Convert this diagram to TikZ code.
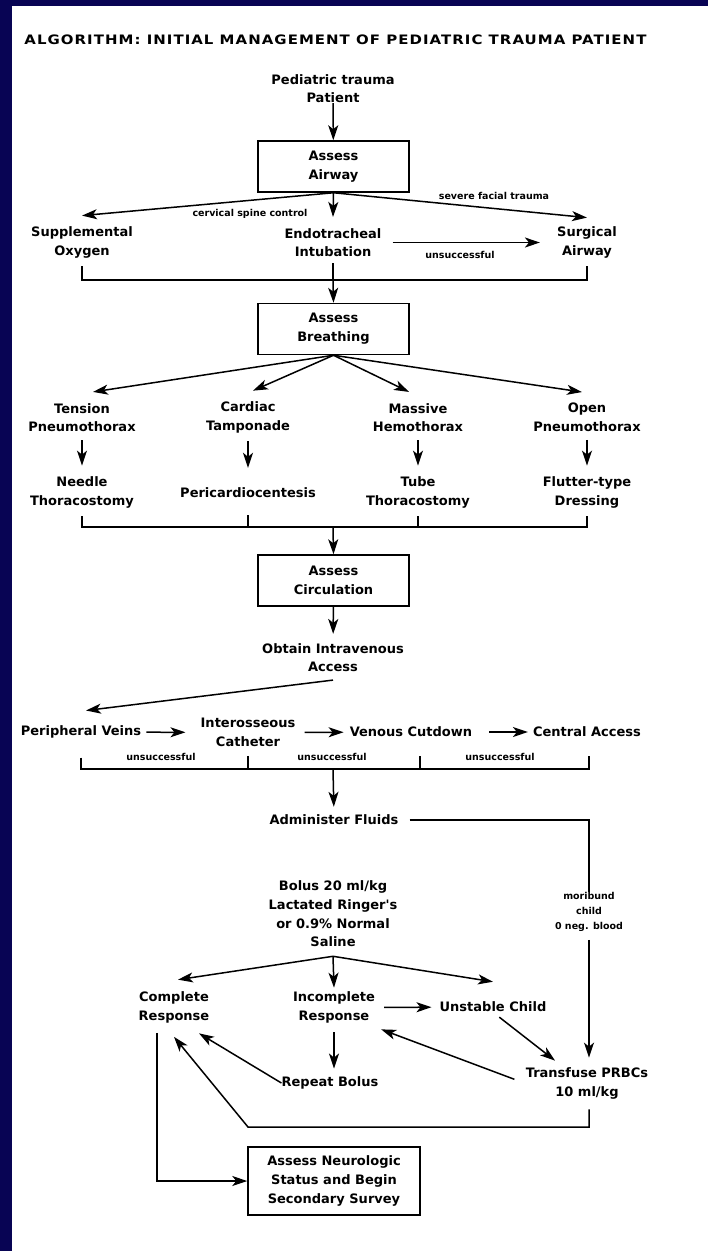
\documentclass[tikz,border=0pt]{standalone}
\usepackage{fontspec}
\usepackage{xcolor}
\usetikzlibrary{arrows.meta}
\newfontfamily\dejavu{DejaVu Sans}
\newfontfamily\titlefont{DejaVu Sans}[FakeStretch=1.15,LetterSpace=8]
\definecolor{navy}{RGB}{8,4,84}

\begin{document}
\begin{tikzpicture}[x=1pt,y=-1pt,
    txt/.style={align=center,inner sep=0pt,font=\dejavu\bfseries\fontsize{13}{18.7}\selectfont},
    lab/.style={align=center,inner sep=0pt,font=\dejavu\bfseries\fontsize{9.5}{15}\selectfont},
    box/.style={txt,draw,line width=1.5pt,minimum width=151pt,minimum height=51pt},
    ln/.style={line width=1.5pt},
    arr/.style={ln,-{Stealth[length=15pt,width=10pt,inset=4pt]}}]
                % Frame
                \useasboundingbox (0,0) rectangle (708,1251);
                \fill[navy] (0,0) rectangle (708,1251);
                \fill[white] (12,6) rectangle (708,1251);
                
                \node[inner sep=0pt,font=\titlefont\bfseries\fontsize{13}{15}\selectfont] (title) at (335.5,40) {ALGORITHM: INITIAL MANAGEMENT OF PEDIATRIC TRAUMA PATIENT};
                
                % Airway
                \node[txt] (patient) at (333,88.5) {Pediatric trauma\\Patient};
                \node[box] (airway) at (333.5,166.5) {Assess\\Airway};
                \node[txt] (oxygen) at (82,242.5) {Supplemental\\Oxygen};
                \node[txt] (intub) at (333,242.5) {Endotracheal\\Intubation};
                \node[txt] (surgical) at (587,242.5) {Surgical\\Airway};
                \node[lab] (cervical) at (250,214) {cervical spine control};
                \node[lab] (facial) at (494,196) {severe facial trauma};
                \node[lab] (fail1) at (460,255) {unsuccessful};
                \coordinate (brA) at (333,280);
                
                \draw[arr] (patient) -- (airway);
                \draw[arr] (airway.south) -- ([yshift=11pt]oxygen.north);
                \draw[arr] (airway.south) -- ([yshift=11pt]intub.north);
                \draw[arr] (airway.south) -- ([yshift=9pt]surgical.north);
                \draw[arr,shorten <=11pt,shorten >=17pt] (intub.east) -- (surgical.west);
                \draw[ln] ([yshift=-8pt]oxygen.south) |- (brA) -| ([yshift=-8pt]surgical.south);
                \draw[ln] ([yshift=-6pt]intub.south) -- (brA);
                
                % Breathing
                \node[box] (breathing) at (333.5,329) {Assess\\Breathing};
                \node[txt] (tension) at (82,417.5) {Tension\\Pneumothorax};
                \node[txt] (cardiac) at (248,417.5) {Cardiac\\Tamponade};
                \node[txt] (massive) at (418,417.5) {Massive\\Hemothorax};
                \node[txt] (open) at (587,417.5) {Open\\Pneumothorax};
                \node[txt] (needle) at (82,492.5) {Needle\\Thoracostomy};
                \node[txt] (pericard) at (248,493) {Pericardiocentesis};
                \node[txt] (tube) at (418,492.5) {Tube\\Thoracostomy};
                \node[txt] (flutter) at (587,492.5) {Flutter-type\\Dressing};
                \coordinate (brB) at (333,527);
                
                \draw[arr] (brA) -- (breathing.north);
                \draw[arr] (breathing.south) -- ([xshift=11pt,yshift=11pt]tension.north);
                \draw[arr] (breathing.south) -- ([xshift=5pt,yshift=11pt]cardiac.north);
                \draw[arr] (breathing.south) -- ([xshift=-9pt,yshift=11pt]massive.north);
                \draw[arr] (breathing.south) -- ([xshift=-5pt,yshift=11pt]open.north);
                \draw[arr,shorten <=8pt,shorten >=11pt] (tension) -- (needle);
                \draw[arr,shorten <=8pt,shorten >=20pt] (cardiac) -- (pericard);
                \draw[arr,shorten <=8pt,shorten >=11pt] (massive) -- (tube);
                \draw[arr,shorten <=8pt,shorten >=11pt] (open) -- (flutter);
                \draw[ln] ([yshift=-8pt]needle.south) |- (brB) -| ([yshift=-8pt]flutter.south);
                \draw[ln] ([yshift=-17pt]pericard.south) -- (pericard.south |- brB);
                \draw[ln] ([yshift=-8pt]tube.south) -- (tube.south |- brB);
                
                % Circulation
                \node[box] (circ) at (333.5,580.5) {Assess\\Circulation};
                \node[txt] (iv) at (333,657.5) {Obtain Intravenous\\Access};
                \node[txt] (periph) at (81,732) {Peripheral Veins};
                \node[txt] (interos) at (248,732.5) {Interosseous\\Catheter};
                \node[txt] (venous) at (411,732) {Venous Cutdown};
                \node[txt] (central) at (587,732) {Central Access};
                \node[lab] (fail2) at (161,757) {unsuccessful};
                \node[lab] (fail3) at (332,757) {unsuccessful};
                \node[lab] (fail4) at (500,757) {unsuccessful};
                \coordinate (brC) at (333,769);
                
                \draw[arr] (brB) -- (circ.north);
                \draw[arr,shorten >=9pt] (circ) -- (iv);
                \draw[arr] ([yshift=-8pt]iv.south) -- ([xshift=5pt,yshift=15pt]periph.north);
                \draw[arr,shorten <=5pt,shorten >=15pt] (periph) -- (interos);
                \draw[arr,shorten <=9pt,shorten >=6pt] (interos) -- (venous);
                \draw[arr,shorten <=17pt,shorten >=5pt] (venous) -- (central);
                \draw[ln] ([yshift=-19pt]periph.south) |- (brC) -| ([xshift=2pt,yshift=-19pt]central.south);
                \draw[ln] ([yshift=-9pt]interos.south) -- (interos.south |- brC);
                \draw[ln] ([xshift=9pt,yshift=-19pt]venous.south) -- ([xshift=9pt]venous.south |- brC);
                
                % Fluids
                \node[txt] (fluids) at (334,820) {Administer Fluids};
                \node[lab] (moribund) at (589,912) {moribund\\child\\0 neg. blood};
                \node[txt] (bolus) at (333,914) {Bolus 20 ml/kg\\Lactated Ringer's\\or 0.9\% Normal\\Saline};
                \coordinate (apex) at ([yshift=-9pt]bolus.south);
                \node[txt] (complete) at (174,1007.5) {Complete\\Response};
                \node[txt] (incomplete) at (334,1007.5) {Incomplete\\Response};
                \node[txt] (unstable) at (493,1007) {Unstable Child};
                \node[txt] (repeat) at (330,1083) {Repeat Bolus};
                \node[txt] (transfuse) at (587,1083.5) {Transfuse PRBCs\\10 ml/kg};
                \node[box,minimum width=172pt,minimum height=68pt] (neuro) at (334,1181) {Assess Neurologic\\Status and Begin\\Secondary Survey};
                \coordinate (loopL) at (248,1127);
                
                \draw[arr,shorten >=8pt] (brC) -- (fluids.north);
                \draw[ln,shorten <=11pt] (fluids.east) -| (moribund.north);
                \draw[arr,shorten <=8pt] (moribund.south) -- ([yshift=10pt]moribund.south |- transfuse.north);
                \draw[arr] (apex) -- ([xshift=4pt,yshift=12pt]complete.north);
                \draw[arr] (apex) -- ([yshift=4pt]incomplete.north);
                \draw[arr] (apex) -- ([yshift=20pt]unstable.north);
                \draw[arr,shorten <=9pt,shorten >=8pt] (incomplete) -- (unstable);
                \draw[arr,shorten <=8pt] (unstable.south) -- ([xshift=-32pt,yshift=7pt]transfuse.north);
                \draw[arr,shorten <=9pt] (incomplete.south) -- ([yshift=8pt]incomplete.south |- repeat.north);
                \draw[arr] (repeat.west) -- ([xshift=25pt,yshift=-10pt]complete.south);
                \draw[arr,shorten <=12pt] (transfuse.west) -- ([xshift=6pt,yshift=-6pt]incomplete.south east);
                \draw[arr] ([xshift=2pt,yshift=-10pt]transfuse.south) |- (loopL) -- ([yshift=-13.5pt]complete.south);
                \draw[arr] ([xshift=-17pt,yshift=-9.5pt]complete.south) |- (neuro.west);
            \end{tikzpicture}
\end{document}
